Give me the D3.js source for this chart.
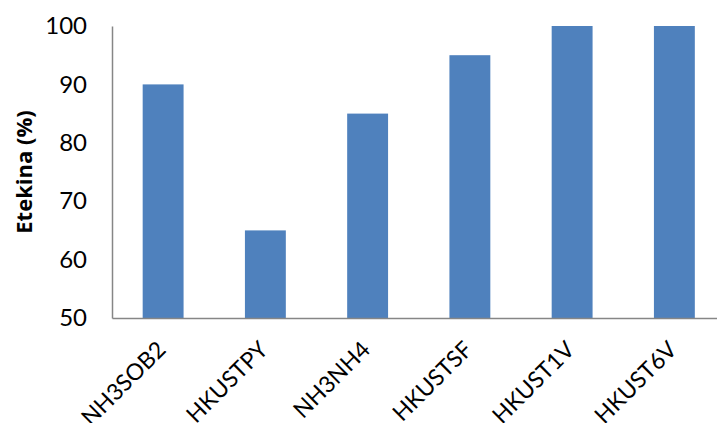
<!DOCTYPE html>
<html>
<head>
<meta charset="utf-8">
<script src="https://cdn.jsdelivr.net/npm/d3@7"></script>
<style>
  body { margin: 0; background: #fff; }
  .tick text { font-family: Lato, "Open Sans", sans-serif; fill: #000; }
</style>
</head>
<body>
<div id="chart"></div>
<script>
// chart data
var categories = ['NH3SOB2', 'HKUSTPY', 'NH3NH4', 'HKUSTSF', 'HKUST1V', 'HKUST6V'];
var values = [90, 65, 85, 95, 100, 100];
var yTicks = [50, 60, 70, 80, 90, 100];

var width = 717, height = 423;
var plot = {left: 112, right: 725.5, top: 26, bottom: 318};

var svg = d3.select('#chart')
  .append('svg')
    .attr('width', width)
    .attr('height', height);

// X scale
var x = d3.scaleBand()
  .range([plot.left, plot.right])
  .domain(categories)
  .paddingInner(0.6)
  .paddingOuter(0.3);

// Y scale
var y = d3.scaleLinear()
  .domain([50, 100])
  .range([plot.bottom, plot.top]);

// Bars
svg.selectAll('rect.bar')
  .data(values)
  .enter()
  .append('rect')
    .attr('class', 'bar')
    .attr('x', function(d, i) { return x(categories[i]); })
    .attr('y', function(d) { return y(d); })
    .attr('width', x.bandwidth())
    .attr('height', function(d) { return y(50) - y(d); })
    .attr('fill', '#4F81BD');

// Y axis
var yAxis = svg.append('g')
  .attr('transform', 'translate(' + plot.left + ',0)')
  .call(d3.axisLeft(y).tickValues(yTicks).tickSize(0).tickPadding(25));
yAxis.select('.domain').attr('stroke', '#868686').attr('stroke-width', 1.5);
yAxis.selectAll('text').style('font-size', '24px');

// X axis
var xAxis = svg.append('g')
  .attr('transform', 'translate(0,' + plot.bottom + ')')
  .call(d3.axisBottom(x).tickSize(0).tickFormat(''));
xAxis.select('.domain').attr('stroke', '#868686').attr('stroke-width', 1.5);

// rotated category labels
svg.selectAll('text.xlab')
  .data(categories)
  .enter()
  .append('text')
    .attr('class', 'xlab')
    .attr('transform', function(d) {
      return 'translate(' + (x(d) + x.bandwidth() / 2 + 4) + ',' + (plot.bottom + 33) + ') rotate(-45)';
    })
    .attr('text-anchor', 'end')
    .style('font-family', 'Lato, "Open Sans", sans-serif')
    .style('font-size', '23px')
    .text(function(d) { return d; });

// Y axis title
svg.append('text')
  .attr('transform', 'translate(32,' + ((plot.top + plot.bottom) / 2) + ') rotate(-90)')
  .attr('text-anchor', 'middle')
  .style('font-family', '"Open Sans", Lato, sans-serif')
  .style('font-size', '22px')
  .style('font-weight', 'bold')
  .text('Etekina (%)');
</script>
</body>
</html>
